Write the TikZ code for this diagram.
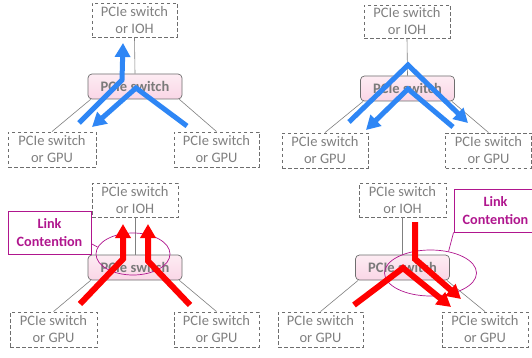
\documentclass[tikz,border=0pt]{standalone}
\usepackage{fontspec}
\setmainfont{Carlito}
\usetikzlibrary{arrows.meta,shapes.geometric}
\definecolor{txtgray}{RGB}{128,128,128}
\definecolor{boxgray}{RGB}{110,110,110}
\definecolor{swpink}{RGB}{250,214,230}
\definecolor{swpinklt}{RGB}{253,236,243}
\definecolor{flowblue}{RGB}{46,134,245}
\definecolor{flowred}{RGB}{255,0,0}
\definecolor{lcpurple}{RGB}{176,22,142}
\tikzset{
  dbox/.style={draw=boxgray, dashed, dash pattern=on 3.5pt off 2.5pt, line width=0.9pt,
    text=txtgray, align=center, inner sep=0pt, font=\fontsize{14.5}{17}\selectfont},
  swbox/.style={draw=boxgray, line width=0.7pt, rounded corners=4pt,
    top color=swpinklt, bottom color=swpink, text=txtgray!95!black,
    minimum width=94pt, minimum height=25pt, inner sep=0pt,
    font=\fontsize{14.5}{17}\selectfont\bfseries},
  link/.style={draw=gray, line width=0.6pt},
  lcbox/.style={draw=lcpurple, line width=0.9pt, text=lcpurple, align=center, inner sep=0pt,
    font=\fontsize{14.2}{18}\selectfont\bfseries, minimum width=83pt, minimum height=43pt},
  lcell/.style={draw=lcpurple, line width=0.7pt, ellipse, inner sep=0pt},
  blueflow/.style={draw=flowblue, line width=5pt, -{Triangle[length=14pt,width=15pt]}},
  redflow/.style={draw=flowred, line width=6pt, -{Triangle[length=14pt,width=15pt]}},
}
\begin{document}
\begin{tikzpicture}[x=1pt,y=-1pt]
\clip (0,0) rectangle (532,358);
\fill[white] (0,0) rectangle (532,358);
% ---------- panel 1 (top left) ----------
\node[dbox, minimum width=85pt, minimum height=34pt] (T1) at (134.5,20) {PCIe switch\\or IOH};
\node[dbox, minimum width=88pt, minimum height=35pt] (L1) at (52,149.5) {PCIe switch\\or GPU};
\node[dbox, minimum width=85pt, minimum height=35pt] (R1) at (216.5,149.5) {PCIe switch\\or GPU};
\node[swbox] (S1) at (135,86.5) {PCIe switch};
\draw[link] (T1.south) -- (S1.north);
\draw[link] ([xshift=3pt]S1.south west) -- (L1.north);
\draw[link] ([xshift=-3pt]S1.south east) -- (R1.north);
\coordinate (a1s) at (79,123); \coordinate (a1m) at (122,80); \coordinate (a1e) at (123,43);
\coordinate (b1s) at (187,126); \coordinate (b1m) at (136,88); \coordinate (b1e) at (92,127);
\draw[blueflow] (a1s) -- (a1m) -- (a1e);
\draw[blueflow] (b1s) -- (b1m) -- (b1e);
% ---------- panel 2 (top right) ----------
\node[dbox, minimum width=86pt, minimum height=33pt] (T2) at (407,21.5) {PCIe switch\\or IOH};
\node[dbox, minimum width=86pt, minimum height=35pt] (L2) at (325,150.5) {PCIe switch\\or GPU};
\node[dbox, minimum width=86pt, minimum height=35pt] (R2) at (488.5,150.5) {PCIe switch\\or GPU};
\node[swbox] (S2) at (407.5,88.5) {PCIe switch};
\draw[link] (T2.south) -- (S2.north);
\draw[link] ([xshift=3pt]S2.south west) -- (L2.north);
\draw[link] ([xshift=-3pt]S2.south east) -- (R2.north);
\coordinate (a2s) at (349,122); \coordinate (a2m) at (408,65); \coordinate (a2e) at (468,123);
\coordinate (b2s) at (453,127); \coordinate (b2m) at (408,89); \coordinate (b2e) at (366,130);
\draw[blueflow] (a2s) -- (a2m) -- (a2e);
\draw[blueflow] (b2s) -- (b2m) -- (b2e);
% ---------- panel 3 (bottom left) ----------
\node[dbox, minimum width=86pt, minimum height=34pt] (T3) at (135,200) {PCIe switch\\or IOH};
\node[dbox, minimum width=87pt, minimum height=35pt] (L3) at (53.5,329.5) {PCIe switch\\or GPU};
\node[dbox, minimum width=85pt, minimum height=35pt] (R3) at (216.5,329.5) {PCIe switch\\or GPU};
\node[swbox] (S3) at (135,267.5) {PCIe switch};
\draw[link] (T3.south) -- (S3.north);
\draw[link] ([xshift=3pt]S3.south west) -- (L3.north);
\draw[link] ([xshift=-3pt]S3.south east) -- (R3.north);
\node[lcell, minimum width=74pt, minimum height=42pt] (E1) at (133,254) {};
\node[lcbox] (LC1) at (49.5,232.5) {Link\\Contention};
\draw[draw=lcpurple, line width=0.7pt] (LC1.-15) -- (E1.169);
\coordinate (a3s) at (80,304); \coordinate (a3m) at (123,259); \coordinate (a3e) at (123,224);
\coordinate (b3s) at (190,305); \coordinate (b3m) at (148,261); \coordinate (b3e) at (148,224);
\draw[redflow] (a3s) -- (a3m) -- (a3e);
\draw[redflow] (b3s) -- (b3m) -- (b3e);
% ---------- panel 4 (bottom right) ----------
\node[dbox, minimum width=87pt, minimum height=34pt] (T4) at (402.5,200) {PCIe switch\\or IOH};
\node[dbox, minimum width=85pt, minimum height=35pt] (L4) at (320.5,329.5) {PCIe switch\\or GPU};
\node[dbox, minimum width=86pt, minimum height=35pt] (R4) at (485,329.5) {PCIe switch\\or GPU};
\node[swbox] (S4) at (402.5,267.5) {PCIe switch};
\draw[link] (T4.south) -- (S4.north);
\draw[link] ([xshift=3pt]S4.south west) -- (L4.north);
\draw[link] ([xshift=-3pt]S4.south east) -- (R4.north);
\node[lcell, minimum width=92pt, minimum height=46pt] (E2) at (430.5,273) {};
\node[lcbox] (LC2) at (495.5,210.5) {Link\\Contention};
\draw[draw=lcpurple, line width=0.7pt] (LC2.south west) -- (E2.50);
\coordinate (a4s) at (415,222); \coordinate (a4m) at (415,259); \coordinate (a4e) at (461,299);
\coordinate (b4s) at (354,305); \coordinate (b4m) at (403,268); \coordinate (b4e) at (451,307);
\draw[redflow] (a4s) -- (a4m) -- (a4e);
\draw[redflow] (b4s) -- (b4m) -- (b4e);
\end{tikzpicture}
\end{document}
